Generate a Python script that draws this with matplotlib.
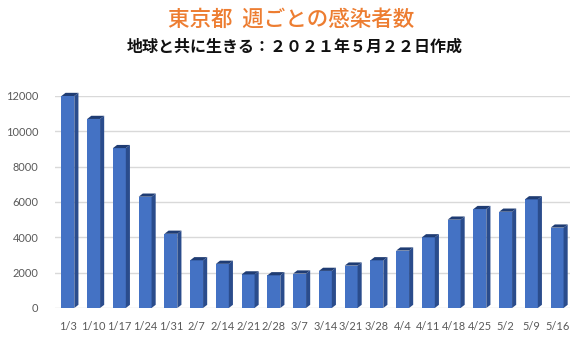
import matplotlib
matplotlib.use("Agg")
import matplotlib.pyplot as plt
from matplotlib.patches import Polygon

weeks = ["1/3", "1/10", "1/17", "1/24", "1/31", "2/7", "2/14", "2/21", "2/28", "3/7",
         "3/14", "3/21", "3/28", "4/4", "4/11", "4/18", "4/25", "5/2", "5/9", "5/16"]
cases = [12000, 10700, 9050, 6300, 4200, 2700, 2500, 1900, 1850, 1950,
         2100, 2400, 2700, 3250, 4000, 5000, 5600, 5450, 6150, 4550]
yticks = [0, 2000, 4000, 6000, 8000, 10000, 12000]

title = "東京都  週ごとの感染者数"
subtitle = "地球と共に生きる：２０２１年５月２２日作成"

W, H = 586, 344
fig = plt.figure(figsize=(W / 100, H / 100), dpi=100)
ax = fig.add_axes([55 / W, 1 - 308 / H, 515 / W, 212 / H])

front = "#4472C4"
side = "#2A4C8C"
topc = "#1F3C73"
bw = 0.5
dx, dy = 0.16, 180

x = list(range(len(weeks)))
bars = ax.bar(x, cases, width=bw, color=front, zorder=3, clip_on=False)
for b in bars:
    x0 = b.get_x()
    x1 = x0 + b.get_width()
    h = b.get_height()
    ax.add_patch(Polygon([(x1, 0), (x1 + dx, dy), (x1 + dx, h + dy), (x1, h)],
                         closed=True, color=side, zorder=3, clip_on=False, lw=0))
    ax.add_patch(Polygon([(x0, h), (x0 + dx, h + dy), (x1 + dx, h + dy), (x1, h)],
                         closed=True, color=topc, zorder=3, clip_on=False, lw=0))

ax.set_xlim(-0.5, len(weeks) - 0.5)
ax.set_ylim(0, 12000)
ax.set_yticks(yticks)
ax.set_yticklabels([str(v) for v in yticks])
ax.set_xticks(x)
ax.set_xticklabels(weeks)
ax.grid(axis="y", color="#D9D9D9", lw=1, zorder=0)
for s in ax.spines.values():
    s.set_visible(False)
ax.tick_params(axis="both", length=0, labelsize=7.9, colors="#595959")
ax.tick_params(axis="y", pad=12)
ax.tick_params(axis="x", pad=9)
for lbl in ax.get_xticklabels() + ax.get_yticklabels():
    lbl.set_fontfamily(["Lato", "DejaVu Sans"])

fig.text(0.497, 1 - 20 / H, title, ha="center", va="center", fontsize=15.5,
         color="#ED7D31", family=["Noto Sans CJK JP", "DejaVu Sans"], weight="medium")
fig.text(0.503, 1 - 47 / H, subtitle, ha="center", va="center", fontsize=11.5,
         color="#111111", family=["Noto Sans CJK JP", "DejaVu Sans"], weight="bold")

fig.savefig("out.png", dpi=100)
